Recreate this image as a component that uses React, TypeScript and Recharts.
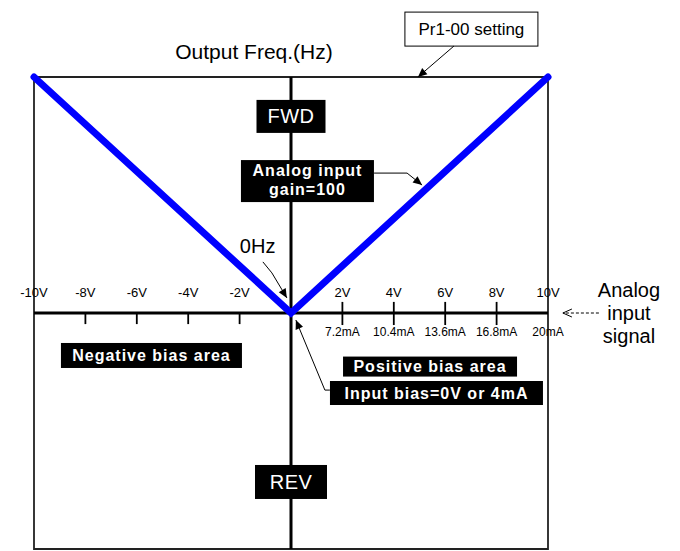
import React from "react";
import {
  ComposedChart,
  Line,
  XAxis,
  YAxis,
  ReferenceLine,
  ReferenceArea,
  ReferenceDot,
} from "recharts";

// analog input (V) vs output frequency (% of Pr1-00)
const signalVolts = [-10, 0, 10];
const outputFreq = [100, 0, 100];

const negTicks = [-8, -6, -4, -2];
const posTicks = [2, 4, 6, 8];
const voltTicks = [-10, -8, -6, -4, -2, 2, 4, 6, 8, 10];
const voltLabels = ["-10V", "-8V", "-6V", "-4V", "-2V", "2V", "4V", "6V", "8V", "10V"];
const mATicks = [2, 4, 6, 8, 10];
const mALabels = ["7.2mA", "10.4mA", "13.6mA", "16.8mA", "20mA"];

const data = signalVolts.map((v, i) => ({ v, hz: outputFreq[i] }));

const FONT = "'Liberation Sans', Arial, Helvetica, sans-serif";
const BLUE = "#0000ff";

type Pt = [number, number];

// black tag with white text, centred on the dot
function tag(w: number, h: number, lines: string[], dys: number[], size = 16, bold = true, ls = 1) {
  return (p: any) => (
    <g>
      <rect x={p.cx - w / 2} y={p.cy - h / 2} width={w} height={h} fill="#000" />
      {lines.map((t, i) => (
        <text
          key={i}
          x={p.cx}
          y={p.cy + dys[i]}
          textAnchor="middle"
          fill="#fff"
          fontFamily={FONT}
          fontSize={size}
          fontWeight={bold ? 700 : 400}
          letterSpacing={ls}
        >
          {t}
        </text>
      ))}
    </g>
  );
}

// polyline ending at the dot, with filled head (or open chevron)
function arrow(pts: Pt[], opts: { dash?: string; open?: boolean; width?: number } = {}) {
  return (p: any) => {
    const all: Pt[] = [...pts, [0, 0]];
    const [px, py] = all[all.length - 2];
    const ang = Math.atan2(-py, -px);
    const L = 9;
    const W = 4;
    const bx = p.cx - L * Math.cos(ang);
    const by = p.cy - L * Math.sin(ang);
    const nx = -Math.sin(ang) * W;
    const ny = Math.cos(ang) * W;
    const d = all.map(([x, y], i) => `${i ? "L" : "M"}${p.cx + x},${p.cy + y}`).join(" ");
    return (
      <g>
        <path d={d} fill="none" stroke="#000" strokeWidth={opts.width ?? 1} strokeDasharray={opts.dash} />
        {opts.open ? (
          <path
            d={`M${bx + nx},${by + ny} L${p.cx},${p.cy} L${bx - nx},${by - ny}`}
            fill="none"
            stroke="#000"
            strokeWidth={1}
          />
        ) : (
          <path d={`M${bx + nx},${by + ny} L${p.cx},${p.cy} L${bx - nx},${by - ny} Z`} fill="#000" />
        )}
      </g>
    );
  };
}

function txt(lines: string[], dys: number[], size: number, anchor: "start" | "middle" = "middle") {
  return (p: any) => (
    <g>
      {lines.map((t, i) => (
        <text key={i} x={p.cx} y={p.cy + dys[i]} textAnchor={anchor} fill="#000" fontFamily={FONT} fontSize={size}>
          {t}
        </text>
      ))}
    </g>
  );
}

export default function App() {
  return (
    <div style={{ position: "absolute", left: 0, top: 0, width: 680, height: 551, background: "#fff" }}>
      <ComposedChart width={680} height={551} data={data} margin={{ top: 77, right: 132, bottom: 2, left: 34 }}>
        <XAxis type="number" dataKey="v" domain={[-10, 10]} hide />
        <YAxis type="number" domain={[-100, 100]} hide />

        <ReferenceArea x1={-10} x2={10} y1={-100} y2={100} fill="none" stroke="#222" strokeWidth={1.8} fillOpacity={0} />

        {negTicks.map((t) => (
          <ReferenceLine key={`n${t}`} segment={[{ x: t, y: 0 }, { x: t, y: -4.7 }]} stroke="#000" strokeWidth={1.8} />
        ))}
        {posTicks.map((t) => (
          <ReferenceLine key={`p${t}`} segment={[{ x: t, y: 4.7 }, { x: t, y: -5.1 }]} stroke="#000" strokeWidth={1.8} />
        ))}

        <ReferenceLine y={0} stroke="#000" strokeWidth={3} />
        <ReferenceLine x={0} stroke="#000" strokeWidth={3} />

        <Line
          dataKey="hz"
          stroke={BLUE}
          strokeWidth={7}
          strokeLinecap="round"
          strokeLinejoin="miter"
          dot={false}
          activeDot={false}
          isAnimationActive={false}
        />

        {voltTicks.map((t, i) => (
          <ReferenceDot
            key={`vl${t}`}
            x={t}
            y={0}
            ifOverflow="visible"
            shape={txt([voltLabels[i]], [-16], 13)}
          />
        ))}
        {mATicks.map((t, i) => (
          <ReferenceDot key={`ml${t}`} x={t} y={0} ifOverflow="visible" shape={txt([mALabels[i]], [23], 12)} />
        ))}

        <ReferenceDot x={-1.44} y={107.6} ifOverflow="visible" shape={txt(["Output Freq.(Hz)"], [0], 21)} />
        <ReferenceDot
          x={13.15}
          y={0}
          ifOverflow="visible"
          shape={txt(["Analog", "input", "signal"], [-16, 7, 30], 20)}
        />
        <ReferenceDot x={10.58} y={0} ifOverflow="visible" shape={arrow([[36, 0]], { dash: "3 2", open: true })} />

        <ReferenceDot
          x={7.02}
          y={120.3}
          ifOverflow="visible"
          shape={(p: any) => (
            <g>
              <rect x={p.cx - 66.5} y={p.cy - 17} width={133} height={34} fill="#fff" stroke="#000" strokeWidth={1} />
              <text x={p.cx} y={p.cy + 6} textAnchor="middle" fontFamily={FONT} fontSize={17} fill="#000">
                Pr1-00 setting
              </text>
            </g>
          )}
        />
        <ReferenceDot x={4.94} y={100} ifOverflow="visible" shape={arrow([[36, -31]])} />

        <ReferenceDot x={0} y={83.3} ifOverflow="visible" shape={tag(69, 33, ["FWD"], [7], 20, false, 0.5)} />
        <ReferenceDot x={0} y={-71.6} ifOverflow="visible" shape={tag(72, 34, ["REV"], [7], 20, false, 0.5)} />

        <ReferenceDot
          x={0.64}
          y={55.9}
          ifOverflow="visible"
          shape={tag(133, 42, ["Analog input", "gain=100"], [-5, 14])}
        />
        <ReferenceDot x={5.1} y={54.2} ifOverflow="visible" shape={arrow([[-48, -12], [-15, -12]])} />

        <ReferenceDot x={-1.99} y={25.4} ifOverflow="visible" shape={txt(["0Hz"], [0], 20, "start")} />
        <ReferenceDot x={-0.16} y={6.4} ifOverflow="visible" shape={arrow([[-24, -36], [-15, -25]])} />

        <ReferenceDot x={-5.43} y={-18} ifOverflow="visible" shape={tag(181, 25, ["Negative bias area"], [5.5])} />
        <ReferenceDot x={5.41} y={-22.7} ifOverflow="visible" shape={tag(174, 20, ["Positive bias area"], [5])} />
        <ReferenceDot x={5.66} y={-33.9} ifOverflow="visible" shape={tag(213, 24, ["Input bias=0V or 4mA"], [5.5])} />
        <ReferenceDot x={0.19} y={-3} ifOverflow="visible" shape={arrow([[34, 70], [29, 70]])} />
      </ComposedChart>
    </div>
  );
}
